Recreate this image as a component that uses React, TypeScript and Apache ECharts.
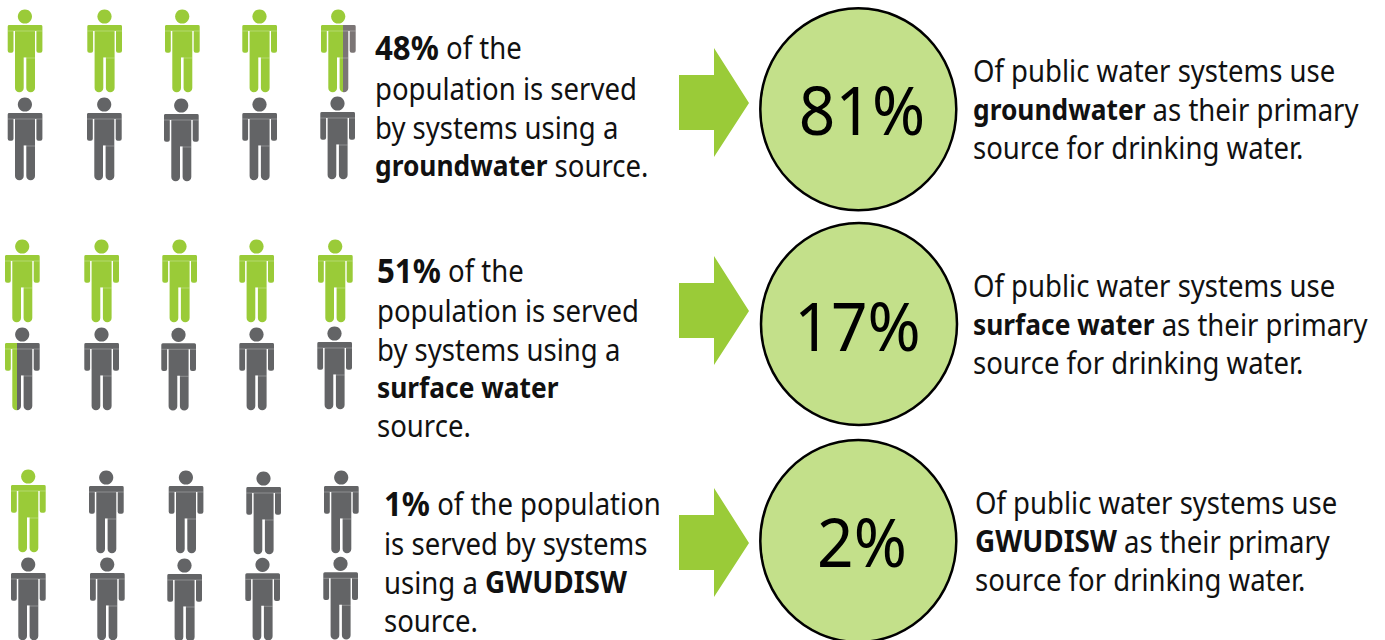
import React, { useEffect, useRef } from "react";
import * as echarts from "echarts";

// Share of population served and share of systems, by primary water source.
const sources = ["groundwater", "surface water", "GWUDISW"];
const populationShare = [48, 51, 1];
const systemShare = [81, 17, 2];
// Pictogram figures coloured green in each ten-figure block.
const figuresFilled = [4.64, 5.34, 1];

const populationLines = [
  [`{p|${populationShare[0]}%}{n| of the}`, "{n|population is served}", "{n|by systems using a}", "{b|groundwater}{n| source.}"],
  [`{p|${populationShare[1]}%}{n| of the}`, "{n|population is served}", "{n|by systems using a}", "{b|surface water}", "{n|source.}"],
  [`{p|${populationShare[2]}%}{n| of the population}`, "{n|is served by systems}", "{n|using a }{c|GWUDISW}", "{n|source.}"],
];
const systemLines = (name: string) => [
  "{n|Of public water systems use}",
  `{${name === name.toUpperCase() ? "c" : "b"}|${name}}{n| as their primary}`,
  "{n|source for drinking water.}",
];

// Layout of the page, in pixels.
const W = 1385;
const H = 640;
const GREEN = "#9acb38";
const GREY = "#636466";
const FONT = '"Noto Sans"';
const TEXT_SCALE = 0.918;

const seatColumns = [
  [[7.7, 87.3, 165, 242.3, 321], [7.7, 87, 164, 242.3, 320.3]],
  [[5, 84.3, 162.3, 239.3, 318], [5, 84.3, 161.3, 239.3, 317.3]],
  [[11, 89, 168.7, 246.3, 324], [11, 90, 167.3, 245.3, 323.3]],
];
const seatShoulders = [
  [[25, 25, 25, 25, 25], [113, 113, 114, 113, 112]],
  [[255, 255, 255, 255, 255], [343, 343, 343.3, 343, 342]],
  [[485, 486, 486, 487, 486], [573, 573, 574, 573.3, 572.3]],
];
const textX = [375, 377, 384];
const textY = [
  [47, 88, 127, 165],
  [270, 310, 349, 387, 425],
  [503, 543, 582, 620],
];
const sideX = [973, 973, 975];
const sideY = [
  [70, 109, 147],
  [285, 324, 362],
  [502, 541, 579],
];
const arrowTips = [103, 311, 543];
const discs = [
  { cx: 858.3, cy: 109.3, rx: 98, ry: 101 },
  { cx: 859, cy: 324, rx: 98, ry: 101 },
  { cx: 858.3, cy: 541, rx: 98, ry: 101 },
];
const discLabelX = [862, 857.5, 862];
const discLabelY = [109, 325, 541];

const BODY =
  "M1.5 0H33.2Q34.7 0 34.7 1.5V25.7Q34.7 27.7 32.7 27.7H30.7Q28.7 27.7 28.7 25.7V6H27.3V63A4.35 4.35 0 0 1 18.6 63V32.4H16V63A4.35 4.35 0 0 1 7.3 63V6H5.8V25.7Q5.8 27.7 3.8 27.7H2Q0 27.7 0 25.7V1.5Q0 0 1.5 0Z";

const figureData: number[][] = [];
sources.forEach((_, g) => {
  seatColumns[g].forEach((row, r) => {
    row.forEach((x, c) => {
      const fill = Math.max(0, Math.min(1, figuresFilled[g] - (r * 5 + c)));
      figureData.push([x, seatShoulders[g][r][c], fill]);
    });
  });
});

function renderFigure(_: unknown, api: any) {
  const [x, y] = api.coord([api.value(0), api.value(1)]);
  const fill = api.value(2);
  const partial = fill > 0 && fill < 1;
  const rest = partial && fill > 0.5 ? "#7b7575" : GREY;
  const bodyFill = partial
    ? new echarts.graphic.LinearGradient(0, 0, 1, 0, [
        { offset: 0, color: GREEN },
        { offset: fill, color: GREEN },
        { offset: fill, color: rest },
        { offset: 1, color: rest },
      ])
    : fill === 1
      ? GREEN
      : GREY;
  const seam = "rgba(255,255,255,0.28)";
  return {
    type: "group",
    children: [
      {
        type: "circle",
        shape: { cx: x + 17.2, cy: y - 8.5, r: 7.1 },
        style: { fill: fill >= 0.5 ? GREEN : GREY },
      },
      {
        type: "path",
        shape: { pathData: BODY, x, y, width: 34.7, height: 67.3, layout: "cover" },
        style: { fill: bodyFill },
      },
      {
        type: "line",
        shape: { x1: x, y1: y + 6, x2: x + 34.7, y2: y + 6 },
        style: { stroke: seam, lineWidth: 1 },
      },
      {
        type: "line",
        shape: { x1: x + 16, y1: y + 33, x2: x + 27.3, y2: y + 33 },
        style: { stroke: seam, lineWidth: 1 },
      },
    ],
  };
}

function renderArrow(_: unknown, api: any) {
  const [x, y] = api.coord([api.value(0), api.value(1)]);
  return {
    type: "polygon",
    shape: {
      points: [
        [x - 70, y - 28],
        [x - 35, y - 28],
        [x - 35, y - 55],
        [x, y],
        [x - 35, y + 54],
        [x - 35, y + 27],
        [x - 70, y + 27],
      ],
    },
    style: { fill: GREEN },
  };
}

function renderDisc(_: unknown, api: any) {
  const i = api.value(2);
  const [cx, cy] = api.coord([api.value(0), api.value(1)]);
  const d = discs[i];
  return {
    type: "group",
    children: [
      {
        type: "ellipse",
        shape: { cx, cy, rx: d.rx, ry: d.ry },
        style: { fill: "#c3e08a", stroke: "#000", lineWidth: 2.5 },
      },
      {
        type: "text",
        x: discLabelX[i],
        y: discLabelY[i],
        scaleX: 0.955,
        style: {
          text: `${api.value(3)}%`,
          align: "center",
          verticalAlign: "middle",
          fontFamily: FONT,
          fontSize: 67,
          fill: "#000",
        },
      },
    ],
  };
}

function textLine(text: string, x: number, y: number) {
  const run = { fontFamily: FONT, fill: "#111" };
  return {
    type: "text",
    x,
    y,
    scaleX: TEXT_SCALE,
    style: {
      text,
      fontFamily: FONT,
      fontSize: 30,
      fill: "#111",
      verticalAlign: "middle",
      rich: {
        n: { ...run, fontSize: 30 },
        b: { ...run, fontSize: 28.7, fontWeight: 700 },
        c: { ...run, fontSize: 30.4, fontWeight: 700 },
        p: { ...run, fontSize: 34, fontWeight: 700 },
      },
    },
  };
}

export default function App() {
  const ref = useRef<HTMLDivElement>(null);
  useEffect(() => {
    const chart = echarts.init(ref.current!, null, { renderer: "svg" });
    const hidden = { show: false };
    const texts: any[] = [];
    sources.forEach((name, g) => {
      populationLines[g].forEach((line, l) => texts.push(textLine(line, textX[g], textY[g][l])));
      systemLines(name).forEach((line, l) => texts.push(textLine(line, sideX[g], sideY[g][l])));
    });
    chart.setOption({
      animation: false,
      backgroundColor: "#fff",
      grid: { left: 0, right: 0, top: 0, bottom: 0 },
      xAxis: { type: "value", min: 0, max: W, axisLine: hidden, axisTick: hidden, axisLabel: hidden, splitLine: hidden },
      yAxis: { type: "value", min: 0, max: H, inverse: true, axisLine: hidden, axisTick: hidden, axisLabel: hidden, splitLine: hidden },
      series: [
        { type: "custom", coordinateSystem: "cartesian2d", clip: false, silent: true, data: figureData, renderItem: renderFigure },
        { type: "custom", coordinateSystem: "cartesian2d", clip: false, silent: true, data: arrowTips.map((y) => [749, y]), renderItem: renderArrow },
        {
          type: "custom",
          coordinateSystem: "cartesian2d",
          clip: false,
          silent: true,
          data: systemShare.map((v, i) => [discs[i].cx, discs[i].cy, i, v]),
          renderItem: renderDisc,
        },
      ],
      graphic: { elements: texts },
    });
    return () => chart.dispose();
  }, []);
  return <div ref={ref} style={{ position: "absolute", left: 0, top: 0, width: W, height: H }} />;
}
